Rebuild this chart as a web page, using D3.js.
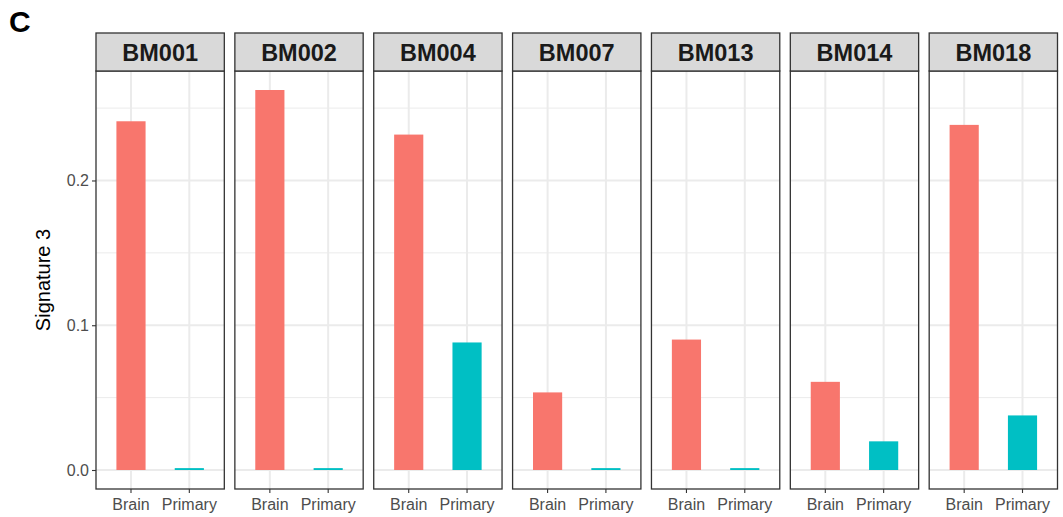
<!DOCTYPE html>
<html>
<head>
<meta charset="utf-8">
<script src="https://cdn.jsdelivr.net/npm/d3@7"></script>
<style>
  html, body { margin: 0; padding: 0; background: #ffffff; }
  svg { display: block; font-family: "Liberation Sans", Arial, Helvetica, sans-serif; }
</style>
</head>
<body>
<svg id="chart" width="1063" height="517"></svg>
<script>
// Signature 3 contribution per patient, brain metastasis vs primary tumour
const patients = ["BM001", "BM002", "BM004", "BM007", "BM013", "BM014", "BM018"];
const sites = ["Brain", "Primary"];
const brainValues = [0.2409, 0.2625, 0.2317, 0.0536, 0.0901, 0.0609, 0.2384];
const primaryValues = [0.0013, 0.0013, 0.0881, 0.0013, 0.0013, 0.0198, 0.0377];
const yTicks = [0.0, 0.1, 0.2];
const yMinorTicks = [0.05, 0.15, 0.25];
const siteColors = ["#F8766D", "#00BFC4"];

const rows = patients.map((p, i) => ({
  patient: p,
  bars: [
    { site: sites[0], value: brainValues[i] },
    { site: sites[1], value: primaryValues[i] }
  ]
}));

const svg = d3.select("#chart");

const plotLeft = 96, plotRight = 1057.5;
const stripTop = 33, stripBottom = 71, panelBottom = 489;

const facet = d3.scaleBand().domain(patients).range([plotLeft, plotRight]).paddingInner(0.076);

// y domain with 5% expansion on both ends
const vmax = d3.max(brainValues.concat(primaryValues));
const pad = vmax * 0.05;
const y = d3.scaleLinear().domain([-pad, vmax + pad]).range([panelBottom, stripBottom]);

const color = d3.scaleOrdinal().domain(sites).range(siteColors);

// Figure panel letter
svg.append("text")
  .attr("x", 9).attr("y", 32)
  .attr("font-size", 30).attr("font-weight", "bold").attr("fill", "#000")
  .text("C");

// Y axis title
svg.append("text")
  .attr("transform", `translate(50,${(stripBottom + panelBottom) / 2}) rotate(-90)`)
  .attr("text-anchor", "middle")
  .attr("font-size", 20).attr("fill", "#000")
  .text("Signature 3");

// Y axis (left of first panel)
const yAxis = d3.axisLeft(y).tickValues(yTicks).tickFormat(d3.format(".1f")).tickSize(4).tickPadding(3);
const yAxisG = svg.append("g").attr("transform", `translate(${plotLeft},0)`).call(yAxis);
yAxisG.select(".domain").remove();
yAxisG.selectAll(".tick line").attr("stroke", "#333333").attr("stroke-width", 1.1);
yAxisG.selectAll(".tick text").attr("font-size", 16).attr("fill", "#4d4d4d").attr("font-family", "Liberation Sans, Arial, sans-serif");

const panels = svg.selectAll("g.panel").data(rows).join("g")
  .attr("class", "panel")
  .attr("transform", d => `translate(${facet(d.patient)},0)`);

const w = facet.bandwidth();
// discrete x scale with 0.6 unit expansion on each side
const x = d3.scaleBand().domain(sites).range([0, w]).paddingInner(0.5).paddingOuter(0.35);

panels.each(function(d) {
  const g = d3.select(this);

  // minor horizontal grid
  g.selectAll("line.minor").data(yMinorTicks).join("line")
    .attr("x1", 0).attr("x2", w)
    .attr("y1", v => y(v)).attr("y2", v => y(v))
    .attr("stroke", "#ebebeb").attr("stroke-width", 1);

  // major horizontal grid
  g.selectAll("line.major").data(yTicks).join("line")
    .attr("x1", 0).attr("x2", w)
    .attr("y1", v => y(v)).attr("y2", v => y(v))
    .attr("stroke", "#ebebeb").attr("stroke-width", 2);

  // vertical grid at category centres
  g.selectAll("line.vgrid").data(sites).join("line")
    .attr("x1", s => x(s) + x.bandwidth() / 2).attr("x2", s => x(s) + x.bandwidth() / 2)
    .attr("y1", stripBottom).attr("y2", panelBottom)
    .attr("stroke", "#ebebeb").attr("stroke-width", 2);

  // bars
  g.selectAll("rect.bar").data(d.bars).join("rect")
    .attr("x", b => x(b.site))
    .attr("width", x.bandwidth())
    .attr("y", b => y(b.value))
    .attr("height", b => y(0) - y(b.value))
    .attr("fill", b => color(b.site));

  // panel border
  g.append("rect")
    .attr("x", 0).attr("y", stripBottom)
    .attr("width", w).attr("height", panelBottom - stripBottom)
    .attr("fill", "none").attr("stroke", "#333333").attr("stroke-width", 1.3);

  // strip
  g.append("rect")
    .attr("x", 0).attr("y", stripTop)
    .attr("width", w).attr("height", stripBottom - stripTop)
    .attr("fill", "#d9d9d9").attr("stroke", "#333333").attr("stroke-width", 1.3);
  g.append("text")
    .attr("x", w / 2).attr("y", (stripTop + stripBottom) / 2 + 8.5)
    .attr("text-anchor", "middle")
    .attr("font-size", 23.5).attr("font-weight", "bold").attr("fill", "#1a1a1a")
    .text(d.patient);

  // x axis
  const xAxis = d3.axisBottom(x).tickSize(4).tickPadding(6);
  const xg = g.append("g").attr("transform", `translate(0,${panelBottom})`).call(xAxis);
  xg.select(".domain").remove();
  xg.selectAll(".tick line").attr("stroke", "#333333").attr("stroke-width", 1.1);
  xg.selectAll(".tick text").attr("font-size", 16).attr("fill", "#4d4d4d").attr("font-family", "Liberation Sans, Arial, sans-serif");
});
</script>
</body>
</html>
